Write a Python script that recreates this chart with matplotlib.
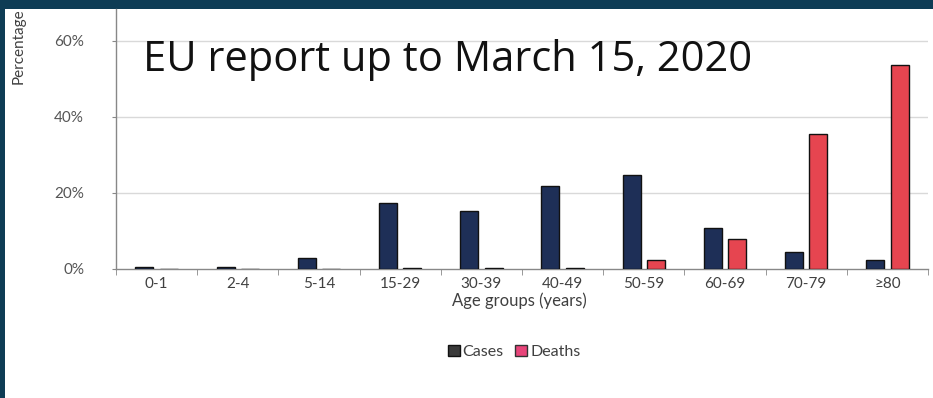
import matplotlib
matplotlib.use("Agg")
import matplotlib.pyplot as plt
from matplotlib.patches import Rectangle, Patch
import numpy as np

categories = ["0-1", "2-4", "5-14", "15-29", "30-39", "40-49", "50-59", "60-69", "70-79", "≥80"]
cases = [0.5, 0.4, 2.9, 17.3, 15.3, 21.8, 24.7, 10.7, 4.6, 2.4]
deaths = [0.0, 0.0, 0.0, 0.3, 0.3, 0.3, 2.4, 7.9, 35.5, 53.7]
yticks = [0, 20, 40, 60]
ytick_labels = ["0%", "20%", "40%", "60%"]

W, H = 933, 398
fig = plt.figure(figsize=(W / 100, H / 100), dpi=100, facecolor="#0e3c55")
fig.patches.append(Rectangle((5 / W, 0), 1, 1 - 9 / H, transform=fig.transFigure,
                             facecolor="white", edgecolor="none", zorder=-5))

ax = fig.add_axes([116 / W, 1 - 269 / H, 812 / W, 260 / H])
ax.set_facecolor("white")

x = np.arange(len(categories))
bw = 0.22
off = 0.15
ax.bar(x - off, cases, bw, color="#1e2f57", edgecolor="#111111", linewidth=1.0, zorder=3)
ax.bar(x + off, deaths, bw, color="#e64550", edgecolor="#111111", linewidth=1.0, zorder=3)

ax.set_xlim(-0.5, len(categories) - 0.5)
ax.set_ylim(0, 68.4)
ax.set_yticks(yticks)
ax.set_yticklabels(ytick_labels)
ax.set_xticks(x)
ax.set_xticklabels(categories)
ax.set_xticks(np.arange(len(categories) + 1) - 0.5, minor=True)
ax.tick_params(axis="x", which="major", length=0, pad=6, labelsize=11, labelcolor="#404040")
ax.tick_params(axis="x", which="minor", length=4, direction="out", color="#888888")
ax.tick_params(axis="y", length=3, color="#888888", pad=20, labelsize=11, labelcolor="#555555")
for lab in ax.get_xticklabels() + ax.get_yticklabels():
    lab.set_family("Lato")

for g in yticks[1:]:
    ax.axhline(g, color="#d9d9d9", linewidth=1.0, zorder=1)
for s in ["top", "right"]:
    ax.spines[s].set_visible(False)
for s in ["left", "bottom"]:
    ax.spines[s].set_color("#888888")
    ax.spines[s].set_linewidth(1.0)

fig.text(143 / W, 1 - 71 / H, "EU report up to March 15, 2020", family="Open Sans",
         fontsize=30, color="#111111", ha="left", va="baseline")
fig.text(19 / W, 1 - 46 / H, "Percentage", family="Lato", fontsize=11, color="#404040",
         rotation=90, ha="center", va="center")
fig.text(519 / W, 1 - 292 / H, "Age groups (years)", family="Lato", fontsize=12,
         color="#404040", ha="center", va="top")

handles = [Patch(facecolor="#3a3a3a", edgecolor="#111111", label="Cases"),
           Patch(facecolor="#e8457a", edgecolor="#333333", label="Deaths")]
fig.legend(handles=handles, loc="center", bbox_to_anchor=(514 / W, 1 - 352 / H), ncol=2,
           frameon=False, prop={"family": "Lato", "size": 11.5}, handlelength=0.75,
           handleheight=0.75, handletextpad=0.2, columnspacing=0.7, labelcolor="#404040")

fig.savefig("out.png", dpi=100, facecolor=fig.get_facecolor())
